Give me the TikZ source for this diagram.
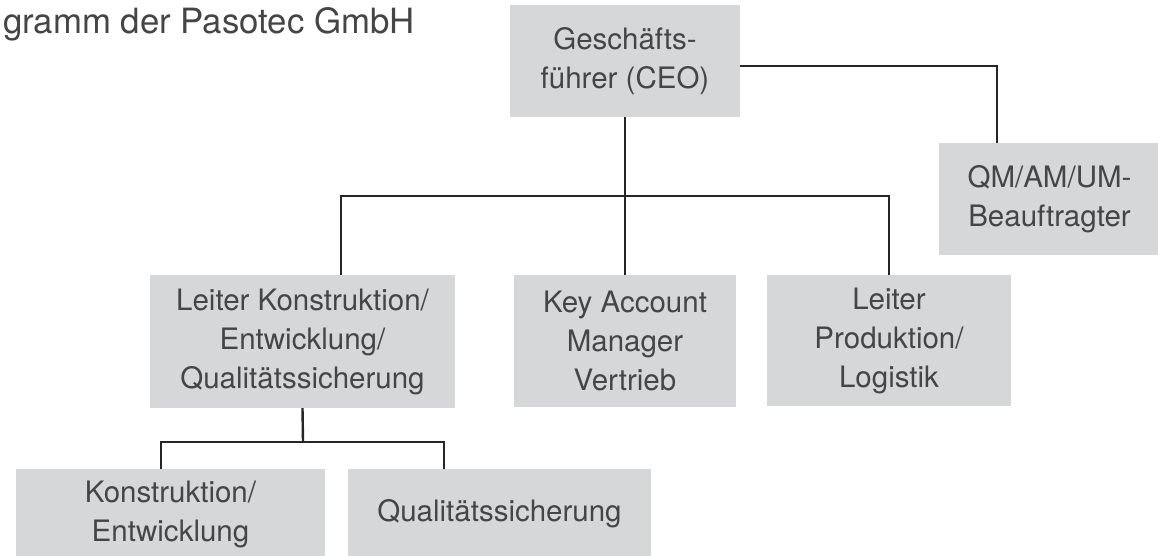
\documentclass[tikz,border=0pt]{standalone}
\usepackage{fontspec}
\setmainfont{TeX Gyre Heros}
\definecolor{boxgray}{HTML}{D6D7D9}
\definecolor{textgray}{HTML}{454545}
\definecolor{linegray}{HTML}{262626}
\tikzset{
  orgbox/.style={fill=boxgray, draw=none, inner sep=0pt, align=center,
    text=textgray, font=\fontsize{29.5}{39}\selectfont},
  orgline/.style={draw=linegray, line width=2.4pt}
}
\begin{document}
\begin{tikzpicture}[x=1pt,y=-1pt]
\useasboundingbox (0,0) rectangle (1158,555);
\node[anchor=base east, inner sep=0pt, text=textgray, font=\fontsize{34.8}{40}\selectfont] (title) at (415,33) {gramm der Pasotec GmbH};

\node[orgbox, minimum width=230pt, minimum height=112pt] (ceo) at (625,61) {Geschäfts-\\führer (CEO)};
\node[orgbox, minimum width=221pt, minimum height=112pt] (qm) at (1049.5,199) {QM/AM/UM-\\Beauftragter};
\node[orgbox, minimum width=305pt, minimum height=133pt] (lk) at (302.5,341.5) {Leiter Konstruktion/\\Entwicklung/\\Qualitätssicherung};
\node[orgbox, minimum width=222pt, minimum height=132pt] (ka) at (625,341) {Key Account\\Manager\\Vertrieb};
\node[orgbox, minimum width=244pt, minimum height=131pt] (lp) at (889,340.5) {Leiter\\Produktion/\\Logistik};
\node[orgbox, minimum width=309pt, minimum height=90pt] (ke) at (170.5,514) {Konstruktion/\\Entwicklung};
\node[orgbox, minimum width=303pt, minimum height=90pt] (qs) at (499.5,514) {Qualitätssicherung};

\coordinate (bus) at (625,196);
\coordinate (bus2) at (303,442);

\draw[orgline] ([yshift=-5pt]ceo.east) -| ([xshift=-52.5pt]qm.north);
\draw[orgline] (ceo.south) -- (ka.north);
\draw[orgline] ([xshift=38.5pt]lk.north) |- (bus) -| (lp.north);
\draw[orgline] (lk.south) -- (bus2);
\draw[orgline] ([xshift=-9.5pt]ke.north) |- (bus2) -| ([xshift=-55.5pt]qs.north);
\end{tikzpicture}
\end{document}
